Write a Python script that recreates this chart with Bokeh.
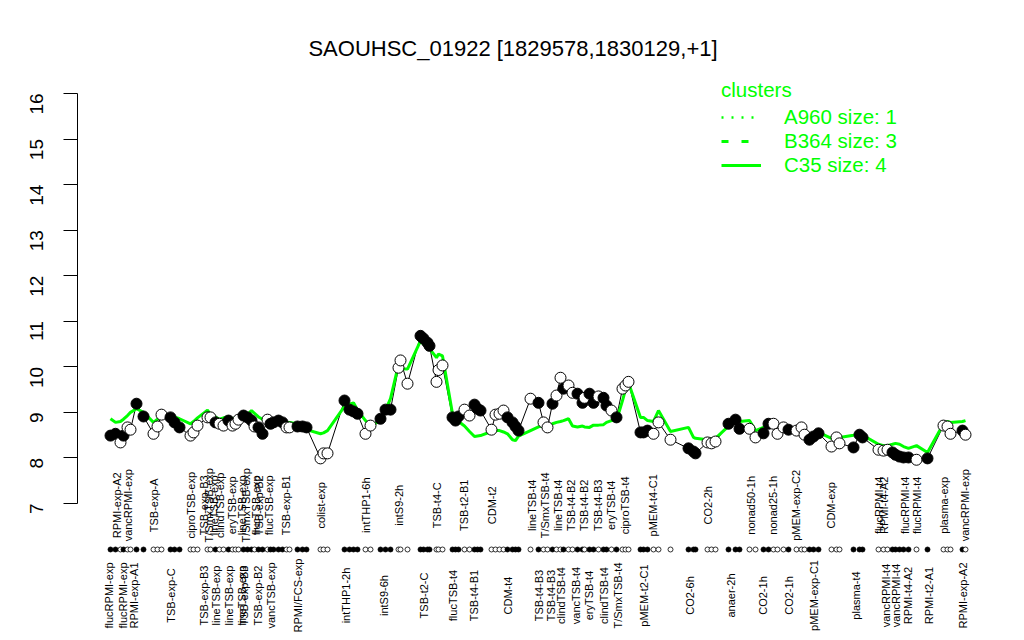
import math
from bokeh.plotting import figure
from bokeh.models import Range1d, FixedTicker, ColumnDataSource, Legend, LegendItem, Label
from bokeh.core.properties import value
from bokeh.embed import file_html
from bokeh.resources import INLINE

# ---------------- data ----------------
positions = [0.0, 0.5, 1.0, 1.3, 1.7, 2.0, 2.6, 3.3, 4.3, 4.7, 5.1, 6.0, 6.4, 6.9, 8.0, 8.3, 8.7,
             9.7, 10.0, 10.5, 10.9, 11.3, 11.8, 12.2, 12.5, 12.8, 13.3, 13.7, 14.1, 14.4, 14.8,
             15.2, 15.7, 16.0, 16.3, 16.8, 17.2, 17.6, 17.9, 18.7, 19.2, 19.6, 21.0, 21.3, 21.7,
             23.4, 23.9, 24.3, 24.7, 25.5, 26.0, 27.0, 27.5, 28.0, 28.8, 29.0, 29.7, 31.0, 31.3,
             31.7, 31.9, 32.6, 32.8, 33.2, 34.2, 34.5, 34.8, 35.4, 35.9, 36.4, 36.7, 37.0, 38.1,
             38.5, 38.9, 39.3, 39.7, 40.2, 40.5, 40.8, 42.0, 42.8, 43.3, 43.7, 44.2, 44.6, 45.0,
             45.3, 45.8, 46.2, 46.7, 47.2, 47.4, 47.9, 48.3, 48.8, 49.3, 49.6, 50.1, 50.6, 51.2,
             51.5, 51.8, 53.0, 53.3, 53.7, 54.3, 54.8, 56.0, 57.8, 58.3, 58.5, 59.7, 60.1, 60.5,
             61.8, 62.5, 62.9, 63.9, 64.5, 65.3, 65.8, 66.3, 66.7, 67.3, 67.8, 68.6, 69.1, 69.4,
             69.9, 70.3, 70.8, 72.1, 72.6, 72.9, 74.3, 74.9, 75.2, 76.8, 77.3, 77.7, 78.2, 78.5,
             78.9, 79.3, 79.8, 80.6, 81.7, 83.3, 83.7, 84.0, 85.2, 85.5]

expression = [8.49, 8.53, 8.34, 8.49, 8.67, 8.62, 9.19, 8.91, 8.53, 8.69, 8.95, 8.89, 8.78, 8.67,
              8.49, 8.56, 8.71, 8.89, 8.89, 8.78, 8.75, 8.71, 8.82, 8.71, 8.75, 8.84, 8.93, 8.89,
              8.82, 8.69, 8.67, 8.53, 8.84, 8.75, 8.78, 8.82, 8.78, 8.67, 8.67, 8.69, 8.69, 8.67,
              7.99, 8.10, 8.10, 9.26, 9.06, 9.02, 8.97, 8.53, 8.71, 8.86, 9.06, 9.06, 9.98, 10.14,
              9.63, 10.68, 10.62, 10.53, 10.46, 9.67, 9.93, 10.03, 8.89, 8.82, 8.91, 9.06, 8.93,
              9.17, 9.08, 9.04, 8.62, 8.95, 8.97, 9.04, 8.89, 8.78, 8.69, 8.60, 9.30, 9.21, 8.78,
              8.67, 9.19, 9.37, 9.76, 9.52, 9.59, 9.43, 9.41, 9.21, 9.32, 9.41, 9.21, 9.35, 9.32,
              9.15, 9.04, 8.89, 9.52, 9.59, 9.67, 8.56, 8.56, 8.60, 8.53, 8.78, 8.40, 8.21, 8.14,
              8.10, 8.34, 8.32, 8.36, 8.75, 8.84, 8.64, 8.64, 8.45, 8.54, 8.75, 8.75, 8.53, 8.67,
              8.62, 8.60, 8.67, 8.51, 8.40, 8.47, 8.54, 8.25, 8.45, 8.32, 8.23, 8.51, 8.45, 8.18,
              8.16, 8.18, 8.12, 8.07, 8.03, 8.01, 8.01, 7.96, 7.99, 8.71, 8.69, 8.53, 8.60, 8.51]

filled = [1, 1, 0, 1, 0, 0, 1, 1, 0, 0, 0, 1, 1, 1, 0, 0, 0, 0, 0, 1, 0, 0, 1, 0, 0, 0, 1, 1, 1,
          0, 1, 1, 0, 1, 1, 1, 1, 0, 0, 1, 1, 1, 0, 0, 0, 1, 1, 1, 1, 0, 0, 1, 1, 1, 0, 0, 0, 1,
          1, 1, 1, 0, 0, 0, 1, 1, 1, 0, 0, 1, 1, 1, 0, 0, 0, 0, 1, 1, 1, 1, 0, 1, 0, 0, 1, 0, 0,
          1, 0, 0, 1, 1, 0, 1, 1, 0, 1, 1, 0, 1, 0, 0, 0, 1, 1, 1, 0, 0, 0, 1, 1, 1, 0, 0, 0, 1,
          1, 1, 0, 0, 1, 1, 0, 0, 0, 1, 0, 0, 0, 1, 1, 1, 0, 0, 0, 1, 1, 1, 0, 0, 0, 1, 1, 1, 1,
          1, 0, 1, 0, 0, 0, 1, 0]

cluster_mean = [8.86, 8.78, 8.80, 8.85, 8.93, 9.00, 9.08, 9.00, 8.78, 8.85, 8.92, 8.93, 8.90,
                8.86, 8.75, 8.80, 8.88, 9.05, 8.95, 8.90, 8.85, 8.88, 8.90, 8.86, 8.88, 8.90,
                8.97, 8.95, 9.04, 8.98, 8.90, 8.85, 8.84, 8.84, 8.82, 8.84, 8.80, 8.75, 8.78,
                8.75, 8.68, 8.62, 8.53, 8.55, 8.60, 9.13, 9.18, 9.21, 9.05, 8.82, 8.70, 8.82,
                9.05, 9.30, 10.05, 9.96, 9.95, 10.57, 10.50, 10.45, 10.40, 10.20, 10.28, 10.24,
                8.97, 8.88, 8.80, 8.70, 8.58, 8.47, 8.48, 8.49, 8.58, 8.60, 8.60, 8.57, 8.53,
                8.40, 8.38, 8.48, 8.60, 8.68, 8.72, 8.68, 8.75, 8.78, 8.80, 8.82, 8.86, 8.70,
                8.68, 8.70, 8.68, 8.67, 8.72, 8.72, 8.73, 8.78, 8.82, 8.82, 9.26, 9.50, 9.65,
                8.89, 8.89, 8.82, 8.80, 9.04, 8.58, 8.67, 8.45, 8.43, 8.40, 8.42, 8.43, 8.70,
                8.78, 8.80, 8.82, 8.60, 8.67, 8.78, 8.75, 8.72, 8.68, 8.62, 8.58, 8.56, 8.52,
                8.49, 8.52, 8.56, 8.43, 8.44, 8.45, 8.50, 8.54, 8.50, 8.30, 8.27, 8.27, 8.30,
                8.32, 8.30, 8.25, 8.21, 8.27, 8.12, 8.75, 8.80, 8.78, 8.80, 8.82]

top_label_pos = [0.6, 1.7, 4.3, 8.0, 9.3, 9.8, 10.3, 10.9, 12.1, 13.1, 13.5, 14.5, 14.8, 15.8,
                 17.5, 21.0, 25.5, 28.8, 32.6, 35.3, 38.1, 42.1, 43.4, 44.7, 46.0, 47.3, 48.7,
                 50.0, 51.4, 54.2, 59.7, 64.0, 66.2, 68.5, 72.0, 76.8, 77.3, 79.4, 80.6, 83.3, 85.4]
top_labels = ["RPMI-exp-A2", "vancRPMI-exp", "TSB-exp-A", "ciproTSB-exp", "TSB-exp-B3",
              "T/SmxTSB-exp", "lineTSB-exp", "clindTSB-exp", "eryTSB-exp", "lineTSB-exp",
              "T/SmxTSB-exp", "flucTSB-exp", "TSB-exp-B2", "flucTSB-exp", "TSB-exp-B1",
              "colist-exp", "intTHP1-6h", "intS9-2h", "TSB-t4-C", "TSB-t2-B1", "CDM-t2",
              "lineTSB-t4", "T/SmxTSB-t4", "lineTSB-t4", "TSB-t4-B2", "TSB-t4-B2", "TSB-t4-B3",
              "eryTSB-t4", "ciproTSB-t4", "pMEM-t4-C1", "CO2-2h", "nonad50-1h", "nonad25-1h",
              "pMEM-exp-C2", "CDM-exp", "flucRPMI-t4", "RPMI-t4-A2", "flucRPMI-t4",
              "flucRPMI-t4", "plasma-exp", "vancRPMI-exp"]

bottom_label_pos = [-0.2, 1.2, 2.3, 6.0, 9.3, 10.5, 11.8, 13.1, 13.3, 14.7, 16.0, 18.7, 23.5,
                    27.3, 31.3, 34.2, 36.3, 39.7, 42.8, 44.0, 45.0, 46.5, 47.8, 49.3, 50.7,
                    53.3, 57.9, 62.0, 65.2, 67.8, 70.3, 74.5, 77.5, 78.5, 79.7, 81.8, 85.2]
bottom_labels = ["flucRPMI-exp", "flucRPMI-exp", "RPMI-exp-A1", "TSB-exp-C", "TSB-exp-B3",
                 "lineTSB-exp", "lineTSB-exp", "lineTSB-exp", "TSB-exp-B3", "TSB-exp-B2",
                 "vancTSB-exp", "RPMI/FCS-exp", "intTHP1-2h", "intS9-6h", "TSB-t2-C",
                 "flucTSB-t4", "TSB-t4-B1", "CDM-t4", "TSB-t4-B3", "TSB-t4-B3", "clindTSB-t4",
                 "vancTSB-t4", "eryTSB-t4", "clindTSB-t4", "T/SmxTSB-t4", "pMEM-t2-C1",
                 "CO2-6h", "anaer-2h", "CO2-1h", "CO2-1h", "pMEM-exp-C1", "plasma-t4",
                 "vancRPMI-t4", "vancRPMI-t4", "RPMI-t4-A2", "RPMI-t2-A1", "RPMI-exp-A2"]

y_ticks = [7, 8, 9, 10, 11, 12, 13, 14, 15, 16]
cluster_names = ["A960 size: 1", "B364 size: 3", "C35 size: 4"]
title_text = "SAOUHSC_01922 [1829578,1830129,+1]"

# ---------------- styling ----------------
GREEN = "#00FF00"
FONT = "Liberation Sans"
NAN = float("nan")

p = figure(width=1016, height=632, output_backend="svg", toolbar_location=None,
           x_range=Range1d(-3.3, 90.6), y_range=Range1d(4.168, 18.041),
           x_axis_location=None, min_border_left=77, min_border_right=0,
           min_border_top=0, min_border_bottom=0)
p.outline_line_color = None
p.grid.visible = False
p.background_fill_color = "white"
p.border_fill_color = "white"

ax = p.yaxis[0]
ax.bounds = (7, 16)
ax.ticker = FixedTicker(ticks=y_ticks)
ax.major_tick_out = 14
ax.major_tick_in = 0
ax.minor_tick_out = 0
ax.minor_tick_in = 0
ax.major_label_orientation = math.pi / 2
ax.major_label_standoff = 27
ax.major_label_text_font = FONT
ax.major_label_text_font_size = "19px"
ax.major_label_text_color = "black"
ax.axis_line_color = "black"
ax.major_tick_line_color = "black"

src = ColumnDataSource(dict(
    x=positions, y=expression, g=cluster_mean,
    fill=["black" if f else "white" for f in filled],
    rug=[5.99] * len(positions),
))

p.line("x", "y", source=src, line_color="black", line_width=1)
p.line("x", "g", source=src, line_color=GREEN, line_width=3)
p.scatter("x", "y", source=src, size=11, marker="circle", fill_color="fill",
          line_color="black", line_width=1)
p.scatter("x", "rug", source=src, size=5, marker="circle", fill_color="fill",
          line_color="black", line_width=0.8)

p.text(x=top_label_pos, y=[6.96] * len(top_label_pos), text=top_labels, angle=math.pi / 2,
       text_align="center", text_baseline="middle", text_font=value(FONT),
       text_font_size="11px", text_color="black")
p.text(x=bottom_label_pos, y=[4.98] * len(bottom_label_pos), text=bottom_labels,
       angle=math.pi / 2, text_align="center", text_baseline="middle",
       text_font=value(FONT), text_font_size="11px", text_color="black")

p.add_layout(Label(x=40.25, y=16.99, text=title_text, text_align="center",
                   text_baseline="middle", text_font=FONT, text_font_size="22px",
                   text_color="black"))

# legend with placeholder renderers carrying the cluster line styles
r_a = p.line(x=[NAN], y=[NAN], line_color=GREEN, line_width=2.5, line_dash="2 8")
r_b = p.line(x=[NAN], y=[NAN], line_color=GREEN, line_width=3, line_dash="7 13")
r_c = p.line(x=[NAN], y=[NAN], line_color=GREEN, line_width=3)
legend = Legend(items=[LegendItem(label=cluster_names[0], renderers=[r_a]),
                       LegendItem(label=cluster_names[1], renderers=[r_b]),
                       LegendItem(label=cluster_names[2], renderers=[r_c])],
                location=(644, 455), title="clusters",
                title_text_color=GREEN, title_text_font=FONT, title_text_font_size="20.5px",
                title_text_font_style="normal", title_standoff=3,
                label_text_color=GREEN, label_text_font=FONT, label_text_font_size="20.5px",
                label_standoff=23, glyph_width=40, glyph_height=20, label_height=20,
                spacing=0, padding=0, margin=0, border_line_color=None,
                background_fill_alpha=0)
p.add_layout(legend)

open("out.html", "w").write(file_html(p, INLINE))
